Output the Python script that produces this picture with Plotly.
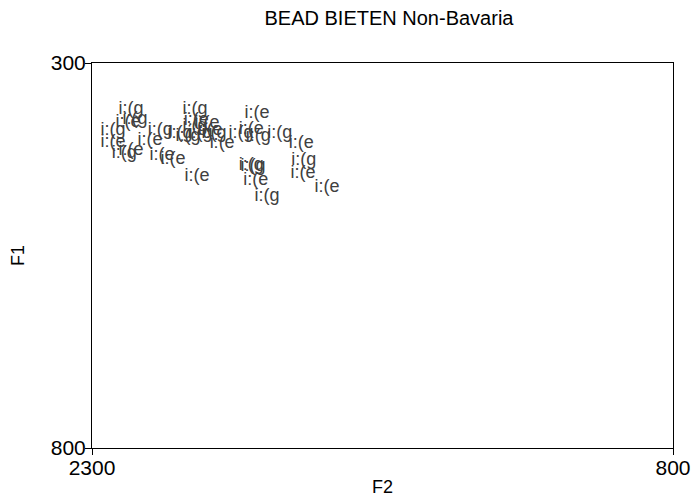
import plotly.graph_objects as go

# vowel tokens: F2 (Hz), F1 (Hz), label
f2 = [2199, 2034, 1874, 2207, 2189, 2246, 2246, 2217, 2199, 2150,
      2124, 2119, 2091, 2073, 2052, 2031, 2034, 2003, 1995, 2021,
      1985, 1964, 2029, 1915, 1889, 1871, 1815, 1760, 1889, 1884,
      1877, 1848, 1753, 1755, 1693]
f1 = [361, 361, 365, 377, 373, 388, 403, 417, 414, 401,
      388, 420, 425, 391, 395, 375, 383, 378, 388, 392,
      392, 404, 448, 392, 386, 396, 391, 404, 433, 435,
      452, 474, 427, 443, 462]
labels = ['i:(g', 'i:(g', 'i:(e', 'i:(e', 'i:(g', 'i:(g', 'i:(e', 'i:(g', 'i:(e', 'i:(e',
          'i:(g', 'i:(e', 'i:(e', 'i:(g', 'i:(g', 'i:(e', 'i:(g', 'i:(e', 'i:(e', 'i:(g',
          'i:(g', 'i:(e', 'i:(e', 'i:(g', 'i:(e', 'i:(g', 'i:(g', 'i:(e', 'i:(g', 'i:(g',
          'i:(e', 'i:(g', 'i:(g', 'i:(e', 'i:(e']

x_ticks = [2300, 800]
y_ticks = [300, 800]

font = 'Liberation Sans, Arial, sans-serif'

fig = go.Figure()

fig.add_trace(go.Scatter(
    x=f2,
    y=f1,
    mode='text',
    text=labels,
    textposition='middle center',
    textfont=dict(family=font, size=18, color='#404040'),
    showlegend=False
))

fig.update_layout(
    title=dict(
        text='BEAD BIETEN Non-Bavaria',
        font=dict(family=font, size=20, color='#000000'),
        x=0.5605,
        xref='container',
        xanchor='center',
        y=0.964,
        yref='container',
        yanchor='middle'
    ),
    xaxis=dict(
        range=[2300, 800],
        tickvals=x_ticks,
        ticktext=[str(v) for v in x_ticks],
        ticks='outside',
        ticklen=6,
        tickcolor='black',
        ticklabelstandoff=-5,
        showline=True,
        linecolor='black',
        linewidth=1,
        mirror=True,
        showgrid=False,
        zeroline=False,
        automargin=False,
        tickfont=dict(family=font, size=21, color='#000000'),
        title=dict(text='F2', font=dict(family=font, size=18, color='#000000'), standoff=2)
    ),
    yaxis=dict(
        range=[800, 300],
        tickvals=y_ticks,
        ticktext=[str(v) for v in y_ticks],
        ticks='outside',
        ticklen=6,
        tickcolor='black',
        ticklabelstandoff=-5,
        showline=True,
        linecolor='black',
        linewidth=1,
        mirror=True,
        showgrid=False,
        zeroline=False,
        automargin=False,
        tickfont=dict(family=font, size=21, color='#000000'),
        title=dict(text='F1', font=dict(family=font, size=18, color='#000000'), standoff=21)
    ),
    plot_bgcolor='white',
    paper_bgcolor='white',
    width=694,
    height=504,
    margin=dict(l=92, r=21, t=63, b=56)
)

# drop the default page margin so the figure sits at the window's corner
fig.write_html("out.html", config={'displayModeBar': False},
               post_script="document.body.style.margin='0';")
